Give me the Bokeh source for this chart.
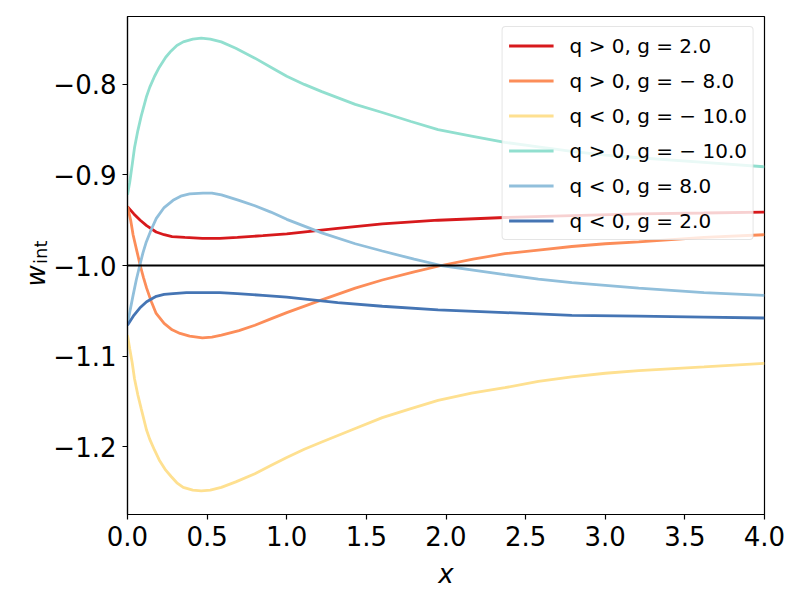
import math
from bokeh.plotting import figure
from bokeh.layouts import row
from bokeh.models import Legend, LegendItem, Span, FixedTicker, Range1d
from bokeh.core.properties import value
from bokeh.embed import file_html
from bokeh.resources import INLINE

# ---------------- data ----------------
labels = ["q > 0, g = 2.0", "q > 0, g = − 8.0", "q < 0, g = − 10.0",
          "q > 0, g = − 10.0", "q < 0, g = 8.0", "q < 0, g = 2.0"]
colors = ["#d7191c", "#fc8d59", "#fee090", "#91dfcf", "#91bfdb", "#4575b4"]

x_red = [0, 0.04, 0.08, 0.12, 0.18, 0.23, 0.28, 0.36, 0.47, 0.58, 0.69, 0.85, 1.0, 1.16, 1.32,
         1.6, 1.95, 2.37, 2.79, 3.21, 3.62, 4.0]
y_red = [-0.935, -0.943, -0.950, -0.956, -0.963, -0.966, -0.968, -0.969, -0.970, -0.970, -0.969,
         -0.967, -0.965, -0.962, -0.959, -0.954, -0.950, -0.947, -0.945, -0.943, -0.942, -0.941]

x_orange = [0, 0.02, 0.035, 0.06, 0.08, 0.10, 0.12, 0.15, 0.18, 0.23, 0.28, 0.33, 0.39, 0.47, 0.53,
            0.59, 0.7, 0.8, 0.9, 1.0, 1.22, 1.43, 1.6, 1.8, 1.97, 2.17, 2.37, 2.58, 2.79, 3.0, 3.21,
            3.62, 4.0]
y_orange = [-0.935, -0.950, -0.966, -0.985, -1.0, -1.013, -1.025, -1.040, -1.053, -1.064, -1.071,
            -1.075, -1.078, -1.080, -1.079, -1.077, -1.072, -1.066, -1.059, -1.052, -1.038, -1.025,
            -1.016, -1.007, -1.0, -0.993, -0.987, -0.983, -0.979, -0.976, -0.974, -0.969, -0.966]

x_teal = [0, 0.014, 0.03, 0.044, 0.065, 0.086, 0.12, 0.14, 0.17, 0.20, 0.24, 0.274, 0.31, 0.35,
          0.41, 0.463, 0.52, 0.589, 0.68, 0.8, 0.9, 1.0, 1.11, 1.22, 1.43, 1.6, 1.78, 1.95, 2.16,
          2.37, 2.58, 2.79, 3.0, 3.21, 3.62, 4.0]
y_teal = [-0.922, -0.908, -0.888, -0.870, -0.851, -0.835, -0.813, -0.803, -0.791, -0.781, -0.770,
          -0.763, -0.757, -0.753, -0.750, -0.749, -0.750, -0.753, -0.760, -0.771, -0.781, -0.791,
          -0.800, -0.808, -0.822, -0.831, -0.841, -0.850, -0.857, -0.864, -0.869, -0.874, -0.878,
          -0.881, -0.886, -0.891]

x_yellow = [0, 0.014, 0.03, 0.044, 0.065, 0.086, 0.12, 0.14, 0.17, 0.20, 0.24, 0.274, 0.31, 0.35,
            0.41, 0.463, 0.52, 0.589, 0.68, 0.8, 0.9, 1.0, 1.11, 1.22, 1.43, 1.6, 1.78, 1.95, 2.16,
            2.37, 2.58, 2.79, 3.0, 3.21, 3.62, 4.0]
y_yellow = [-1.077, -1.092, -1.108, -1.125, -1.143, -1.158, -1.182, -1.192, -1.204, -1.215, -1.226,
            -1.233, -1.240, -1.245, -1.248, -1.249, -1.248, -1.245, -1.239, -1.230, -1.221, -1.212,
            -1.203, -1.195, -1.180, -1.168, -1.158, -1.149, -1.141, -1.135, -1.128, -1.123, -1.119,
            -1.116, -1.112, -1.108]

x_lblue = [0, 0.017, 0.035, 0.055, 0.077, 0.097, 0.118, 0.15, 0.181, 0.23, 0.286, 0.34, 0.39,
           0.474, 0.53, 0.59, 0.7, 0.8, 0.9, 1.0, 1.22, 1.43, 1.6, 1.8, 1.97, 2.17, 2.37, 2.58,
           2.79, 3.0, 3.21, 3.62, 4.0]
y_lblue = [-1.065, -1.049, -1.033, -1.016, -1.0, -0.986, -0.974, -0.960, -0.948, -0.936, -0.928,
           -0.923, -0.921, -0.920, -0.920, -0.922, -0.928, -0.934, -0.941, -0.949, -0.964, -0.976,
           -0.984, -0.993, -1.0, -1.005, -1.010, -1.015, -1.019, -1.022, -1.025, -1.030, -1.033]

x_dblue = [0, 0.04, 0.077, 0.12, 0.15, 0.181, 0.23, 0.286, 0.37, 0.474, 0.58, 0.69, 0.85, 1.0,
           1.16, 1.32, 1.6, 1.95, 2.37, 2.79, 3.21, 3.62, 4.0]
y_dblue = [-1.066, -1.055, -1.047, -1.040, -1.037, -1.034, -1.032, -1.031, -1.030, -1.030, -1.030,
           -1.031, -1.033, -1.035, -1.038, -1.041, -1.045, -1.049, -1.052, -1.055, -1.056, -1.057,
           -1.058]

ref_level = -1.0

x_ticks = [0.0, 0.5, 1.0, 1.5, 2.0, 2.5, 3.0, 3.5, 4.0]
x_tick_labels = ["0.0", "0.5", "1.0", "1.5", "2.0", "2.5", "3.0", "3.5", "4.0"]
y_ticks = [-1.2, -1.1, -1.0, -0.9, -0.8]
y_tick_labels = ["−1.2", "−1.1", "−1.0", "−0.9", "−0.8"]

y_label_main = "w"
y_label_sub = "int"
x_label = "x"

series = [(x_red, y_red), (x_orange, y_orange), (x_yellow, y_yellow),
          (x_teal, y_teal), (x_lblue, y_lblue), (x_dblue, y_dblue)]

FONT = "DejaVu Sans"

# ---------------- layout sizes ----------------
LABW = 50          # width of the strip holding the y-axis label
TOTAL_H = 584
BL, BT, FW, FH, BR, BB = 126 - LABW, 16, 637, 498, 21, 70

# ---------------- main figure ----------------
p = figure(frame_width=FW, frame_height=FH,
           x_range=Range1d(0, 4), y_range=Range1d(-1.275, -0.725),
           output_backend="svg", toolbar_location=None,
           min_border_left=BL, min_border_right=BR, min_border_top=BT, min_border_bottom=BB)
p.background_fill_color = "white"
p.border_fill_color = "white"
p.outline_line_color = "black"
p.outline_line_width = 1.2
p.xgrid.visible = False
p.ygrid.visible = False

for ax in (p.xaxis[0], p.yaxis[0]):
    ax.axis_line_color = "black"
    ax.axis_line_width = 1.2
    ax.major_tick_line_color = "black"
    ax.major_tick_line_width = 1.2
    ax.major_tick_out = 5
    ax.major_tick_in = 0
    ax.minor_tick_line_color = None
    ax.major_label_text_font = FONT
    ax.major_label_text_font_size = "26px"
    ax.major_label_text_color = "black"
    ax.major_label_standoff = 6

p.xaxis.ticker = FixedTicker(ticks=x_ticks)
p.yaxis.ticker = FixedTicker(ticks=y_ticks)
p.xaxis.major_label_overrides = {t: s for t, s in zip(x_ticks, x_tick_labels)}
p.yaxis.major_label_overrides = {t: s for t, s in zip(y_ticks, y_tick_labels)}

p.xaxis.axis_label = x_label
p.xaxis.axis_label_text_font = FONT
p.xaxis.axis_label_text_font_style = "italic"
p.xaxis.axis_label_text_font_size = "26px"
p.xaxis.axis_label_text_color = "black"
p.xaxis.axis_label_standoff = 10

items = []
for (xs, ys), c, lab_text in zip(series, colors, labels):
    r = p.line(xs, ys, line_color=c, line_width=2.8)
    items.append(LegendItem(label=lab_text, renderers=[r]))

p.add_layout(Span(location=ref_level, dimension="width", line_color="black", line_width=2))

legend = Legend(items=items, location="top_right", margin=10, padding=6, spacing=10,
                glyph_width=45, glyph_height=25, label_height=25, label_standoff=16,
                label_text_font=FONT, label_text_font_size="20px", label_text_color="black",
                border_line_color="#cccccc", border_line_width=1,
                background_fill_color="white", background_fill_alpha=0.8)
if "border_radius" in Legend.properties():
    legend.border_radius = 4
p.add_layout(legend)

# ---------------- narrow strip with the y-axis label "w_int" ----------------
# it shares the main y range, so its frame lines up with the main frame
lab = figure(width=LABW, height=TOTAL_H, x_range=Range1d(0, LABW), y_range=p.y_range,
             output_backend="svg", toolbar_location=None,
             x_axis_location=None, y_axis_location=None,
             min_border=0, min_border_left=0, min_border_right=0,
             min_border_top=BT, min_border_bottom=0)
lab.outline_line_color = None
lab.background_fill_color = "white"
lab.border_fill_color = "white"
lab.xgrid.visible = False
lab.ygrid.visible = False
# label pieces: x in strip pixels, y on the shared value axis (label centres)
lab.text(x=[35], y=[-1.0155], text=[y_label_main], angle=math.pi / 2,
         text_font=value(FONT), text_font_style="italic", text_font_size="26px",
         text_align="center", text_baseline="alphabetic", text_color="black")
lab.text(x=[40], y=[-0.989], text=[y_label_sub], angle=math.pi / 2,
         text_font=value(FONT), text_font_size="18px",
         text_align="center", text_baseline="alphabetic", text_color="black")

layout = row(lab, p)
open("out.html", "w").write(file_html(layout, INLINE))
